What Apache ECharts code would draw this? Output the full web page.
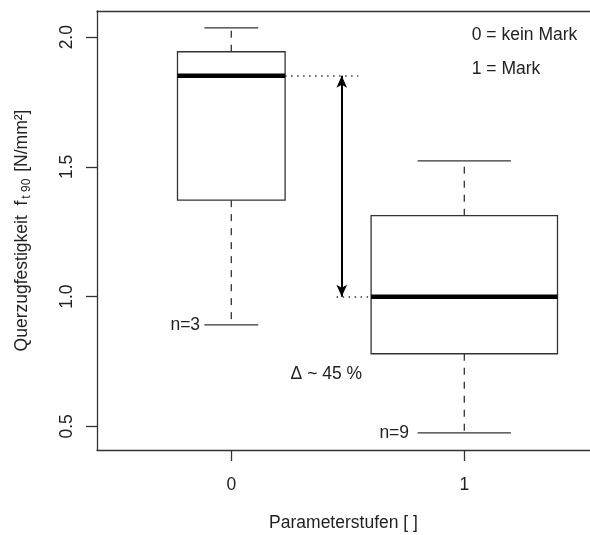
<!DOCTYPE html>
<html><head><meta charset="utf-8">
<script src="https://cdn.jsdelivr.net/npm/echarts@6/dist/echarts.min.js"></script>
<style>html,body{margin:0;padding:0;background:#fff}#c{width:590px;height:535px}</style>
</head><body><div id="c"></div>
<script>
// ---- data ----
const categories = [0, 1];
const groupN = [3, 9];
const whiskerLow = [0.891, 0.475];
const q1 = [1.372, 0.780];
const median = [1.851, 1.000];
const q3 = [1.944, 1.312];
const whiskerHigh = [2.036, 1.523];
const yTicks = [0.5, 1.0, 1.5, 2.0];
const xTicks = [0, 1];
const legendTexts = ['0 = kein Mark', '1 = Mark'];
const deltaText = 'Δ ~ 45 %';

// ---- derived ----
const maxSqrt = Math.sqrt(Math.max(...groupN));
const boxWidths = groupN.map(n => 0.8 * Math.sqrt(n) / maxSqrt);
const boxData = categories.map((c, i) => [c, whiskerLow[i], q1[i], median[i], q3[i], whiskerHigh[i], boxWidths[i]]);

// annotation placement (data coordinates)
const annotations = [
  {text: 'n=' + groupN[0], x: -0.134, y: whiskerLow[0], align: 'right'},
  {text: 'n=' + groupN[1], x: 0.763, y: whiskerLow[1], align: 'right'},
  {text: deltaText, x: 0.408, y: 0.702, align: 'center'},
  {text: legendTexts[0], x: 1.032, y: 2.009, align: 'left'},
  {text: legendTexts[1], x: 1.032, y: 1.878, align: 'left'}
];
const arrowX = 0.474;

const FONT = '"Liberation Sans", Arial, sans-serif';
const FS = 17.5;
const LINE = '#333';
const TXT = '#222';

function renderBox(params, api) {
  const x = api.value(0);
  const w = api.value(6);
  const cx = api.coord([x, 1])[0];
  const left = api.coord([x - w / 2, 1])[0];
  const right = api.coord([x + w / 2, 1])[0];
  const capL = api.coord([x - w / 4, 1])[0];
  const capR = api.coord([x + w / 4, 1])[0];
  const yLo = api.coord([x, api.value(1)])[1];
  const yQ1 = api.coord([x, api.value(2)])[1];
  const yMed = api.coord([x, api.value(3)])[1];
  const yQ3 = api.coord([x, api.value(4)])[1];
  const yHi = api.coord([x, api.value(5)])[1];
  const st = {stroke: LINE, lineWidth: 1.3, fill: null};
  const dash = {stroke: LINE, lineWidth: 1.3, lineDash: [7, 7]};
  return {
    type: 'group',
    children: [
      {type: 'line', shape: {x1: cx, y1: yQ1, x2: cx, y2: yLo}, style: dash},
      {type: 'line', shape: {x1: cx, y1: yQ3, x2: cx, y2: yHi}, style: dash},
      {type: 'line', shape: {x1: capL, y1: yLo, x2: capR, y2: yLo}, style: st},
      {type: 'line', shape: {x1: capL, y1: yHi, x2: capR, y2: yHi}, style: st},
      {type: 'rect', shape: {x: left, y: yQ3, width: right - left, height: yQ1 - yQ3}, style: {stroke: LINE, lineWidth: 1.3, fill: '#fff'}},
      {type: 'line', shape: {x1: left, y1: yMed, x2: right, y2: yMed}, style: {stroke: '#000', lineWidth: 4.5}}
    ]
  };
}

function renderText(params, api) {
  const a = annotations[params.dataIndex];
  const p = api.coord([a.x, a.y]);
  return {
    type: 'text',
    x: p[0], y: p[1],
    style: {text: a.text, fill: TXT, font: FS + 'px ' + FONT, align: a.align, verticalAlign: 'middle'}
  };
}

const XMIN = -0.5764, XMAX = 1.5395;

const chart = echarts.init(document.getElementById('c'), null, {renderer: 'canvas'});
chart.setOption({
  animation: false,
  backgroundColor: '#fff',
  grid: {left: 97, top: 11, right: 0, bottom: 85, show: false, outerBoundsMode: 'none', containLabel: false},
  xAxis: [{
    type: 'value', min: XMIN, max: XMAX, position: 'bottom',
    name: 'Parameterstufen [ ]', nameLocation: 'middle', nameGap: 64,
    nameTextStyle: {fontFamily: FONT, fontSize: FS, color: TXT},
    axisLine: {show: true, onZero: false, lineStyle: {color: LINE, width: 1.3}},
    splitLine: {show: false},
    axisTick: {show: true, inside: false, length: 11, customValues: xTicks, lineStyle: {color: LINE, width: 1.3}},
    axisLabel: {customValues: xTicks, margin: 26, fontFamily: FONT, fontSize: FS, color: TXT, formatter: v => String(v)}
  }, {
    type: 'value', min: XMIN, max: XMAX, position: 'top',
    axisLine: {show: true, onZero: false, lineStyle: {color: LINE, width: 1.3}},
    splitLine: {show: false}, axisTick: {show: false}, axisLabel: {show: false}
  }],
  yAxis: {
    type: 'value', min: 0.409, max: 2.101,
    name: 'Querzugfestigkeit  f{sub|t 90} [N/mm²]', nameLocation: 'middle', nameGap: 64,
    nameTextStyle: {fontFamily: FONT, fontSize: FS, color: TXT,
      rich: {sub: {fontFamily: FONT, fontSize: 12, color: TXT, verticalAlign: 'bottom', padding: [9, 2, 0, 2]}}},
    axisLine: {show: true, onZero: false, lineStyle: {color: LINE, width: 1.3}},
    splitLine: {show: false},
    axisTick: {show: true, inside: false, length: 11, customValues: yTicks, lineStyle: {color: LINE, width: 1.3}},
    axisLabel: {customValues: yTicks, rotate: 90, margin: 21, fontFamily: FONT, fontSize: FS, color: TXT, formatter: v => v.toFixed(1)}
  },
  series: [
    {
      type: 'custom', name: 'boxes', renderItem: renderBox, data: boxData,
      encode: {x: 0, y: [1, 5]}, clip: false, z: 2,
      markLine: {
        silent: true, animation: false, label: {show: false},
        data: [
          [{coord: [arrowX, median[0]], symbol: 'arrow', symbolSize: [8, 12], lineStyle: {color: '#000', width: 2, type: 'solid'}},
           {coord: [arrowX, median[1]], symbol: 'arrow', symbolSize: [8, 12]}],
          [{coord: [boxWidths[0] / 2, median[0]], symbol: 'none', lineStyle: {color: LINE, width: 1.5, type: [1.5, 4.5]}},
           {coord: [0.545, median[0]], symbol: 'none'}],
          [{coord: [0.452, median[1]], symbol: 'none', lineStyle: {color: LINE, width: 1.5, type: [1.5, 4.5]}},
           {coord: [1 - boxWidths[1] / 2, median[1]], symbol: 'none'}]
        ]
      }
    },
    {
      type: 'custom', name: 'annotations', renderItem: renderText,
      data: annotations.map(a => [a.x, a.y]), clip: false, z: 3, silent: true
    }
  ]
});
</script></body></html>
